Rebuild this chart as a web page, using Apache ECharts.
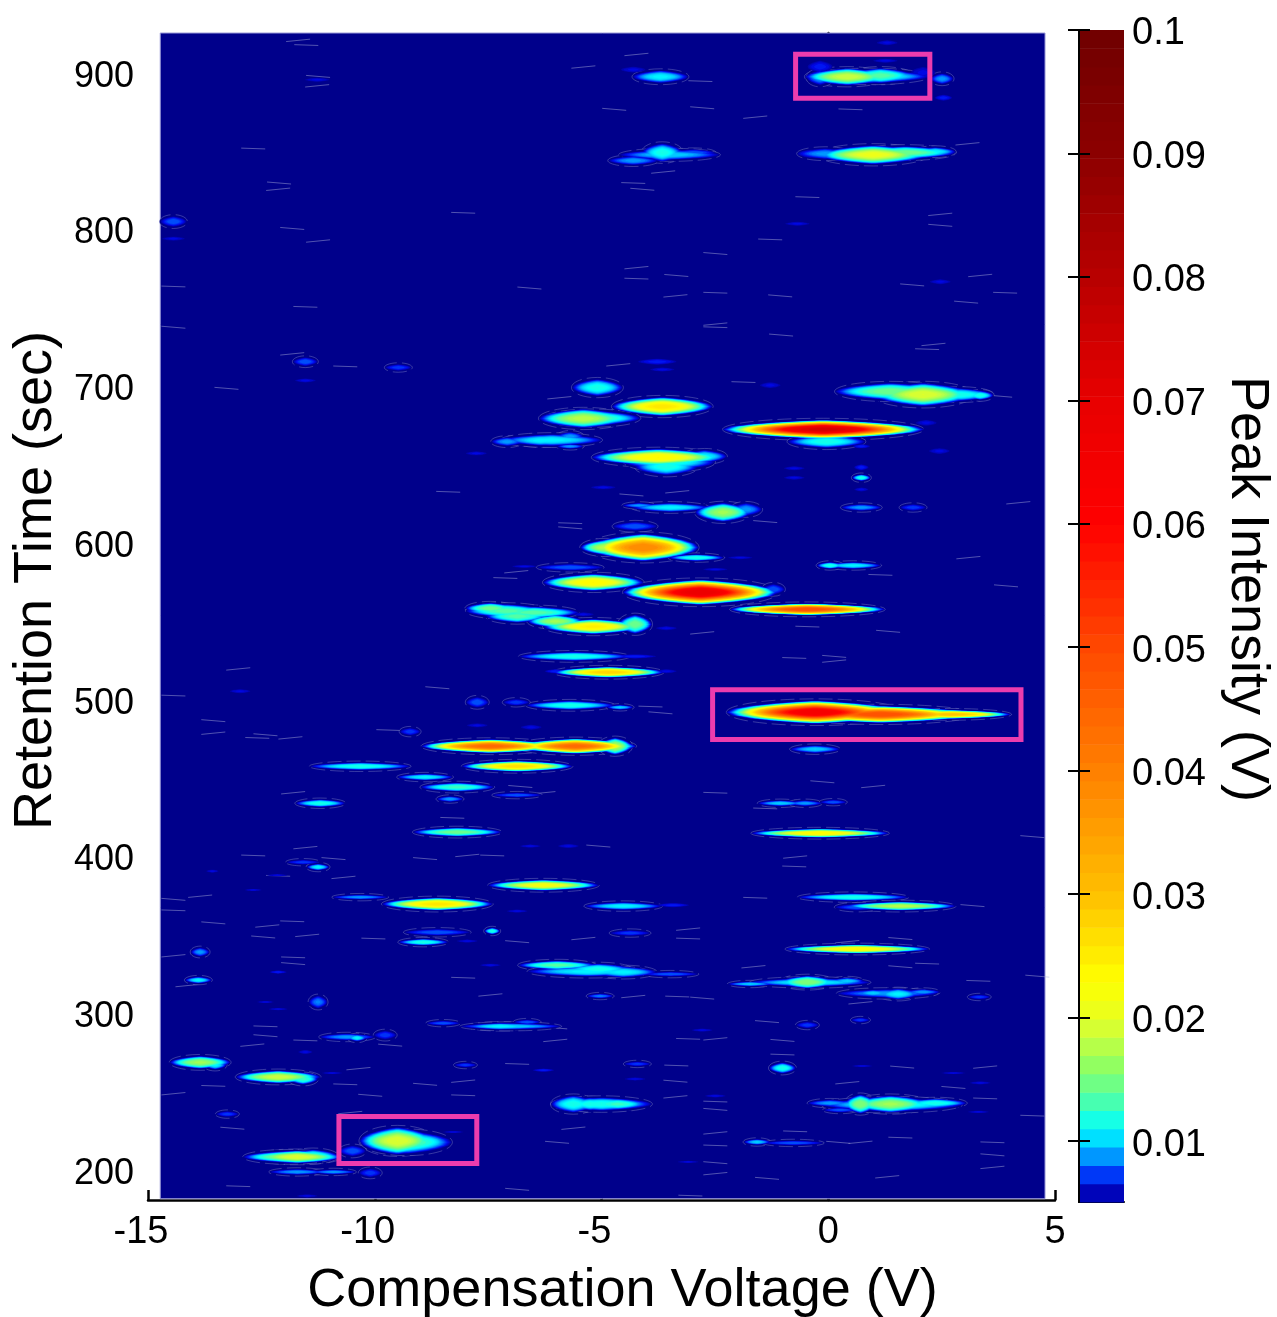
<!DOCTYPE html>
<html><head><meta charset="utf-8">
<style>html,body{margin:0;padding:0;background:#fff}#c{width:1277px;height:1317px}</style>
<script src="https://cdn.jsdelivr.net/npm/echarts@6/dist/echarts.min.js"></script>
</head><body><div id="c"></div>
<script>
// Axis ticks
const xTicks = [-15, -10, -5, 0, 5];
const yTicks = [200, 300, 400, 500, 600, 700, 800, 900];
const barTicks = [0.01, 0.02, 0.03, 0.04, 0.05, 0.06, 0.07, 0.08, 0.09, 0.1];
const plotRange = [-14.73, 4.78, 181, 924.7];
// Highlight boxes: [cv0, cv1, rt0, rt1]
const boxes = [[-0.72, 2.24, 883.1, 911.2], [-2.55, 4.25, 474, 505.7], [-10.79, -7.75, 203.5, 233.5]];
// Peaks: [compensation V, retention s, half width V, half height s, peak intensity V]
const peaksUpper = [
[.42,896.8,.84,5.1,.019],[1.15,897.5,.66,4.5,.014],[-.18,896.2,.26,4.5,.009],[-.18,903.2,.26,3.8,.007],[2.09,899.4,.26,3.8,.0065],
[2.51,895.5,.22,3.2,.009],[2.54,883.4,.18,1.9,.007],[1.26,907,.26,1.3,.0065],[1.3,918.5,.22,1.6,.0065],[-3.7,896.8,.55,3.8,.011],
[-4.3,901.3,.26,1.9,.0065],[-3.66,848.4,.4,5.5,.012],[-2.98,848.4,.44,1.9,.008],[-4.3,843.3,.49,2.6,.009],[.99,847,1.1,5.7,.021],
[1.7,848.4,1,3.8,.015],[-.07,847.7,.55,3.2,.009],[2.36,849,.4,2.6,.011],[-.4,847.7,.26,2.6,.007],[-14.44,804.4,.26,3.2,.008],
[-14.44,793.5,.24,1.3,.0065],[-11.27,894.9,.26,1.3,.0065],[-11.53,715,.24,2.6,.008],[-9.48,711.3,.26,1.9,.0075],[-11.53,703,.22,1.3,.0065],
[-5.09,698.5,.5,5.1,.012],[-3.66,686.4,1,5.7,.026],[-3.77,715,.4,1.9,.007],[-3.66,710,.26,1.3,.0065],[-1.28,700,.22,1.9,.0065],
[2.47,766,.22,1.6,.0065],[-.68,803,.26,1.3,.0065],[2.09,694,1,7,.02],[1.37,696,1.1,5.1,.015],[2.91,694,.66,3.8,.012],[3.35,693.5,.26,2.6,.012],
[-5.4,678.8,.88,5.7,.018],[-7.08,664,.31,2.6,.009],[-6.35,664.8,.55,3.2,.011],[-5.69,667.3,.26,2.6,.009],[-5.69,661,.26,1.3,.009],
[-7.76,656.5,.22,1.3,.0065],[-.11,671.8,2,5.7,.075],[-.04,664,.77,3.8,.012],[.73,661,.18,1.3,.007],[2.16,676,.22,1.9,.0065],[2.45,658,.22,1.9,.0065],
[.9,897,1.2,4,.012],[-3.5,847,1,3,.01],[-6.1,665,1,3.5,.011],[-5.2,679,.95,4.5,.014]
];
const peaksMiddle = [
[-3.75,654,1.32,5.1,.024],[-3.57,648,.62,5.1,.012],[-2.73,654.6,.44,3.8,.011],[.73,641,.18,1.9,.012],[.73,647.6,.15,1.9,.007],[.73,633.5,.15,1.3,.0065],
[-.75,647,.22,1.3,.0065],[-.75,641,.22,1.3,.0065],[-4.96,634.8,.26,1.3,.0065],[-2.32,618.9,.55,5.7,.017],[-3.48,622,.77,2.6,.011],[-1.81,620.8,.31,3.8,.009],
[-4.17,623.3,.33,1.3,.009],[.73,622,.4,1.9,.009],[1.87,622,.26,1.9,.0075],[-4.26,610,.44,2.6,.008],[-4.08,596.5,1.1,8.3,.04],[-2.91,590,.55,1.9,.012],
[-4.92,596.5,.49,4.5,.018],[-5.69,583.8,.66,1.9,.008],[-6.7,584.4,.26,1,.0065],[-1.94,590,.26,1,.0065],[-2.49,582.5,.26,1,.0065],[-5.18,574.2,1,5.1,.024],
[-2.82,567.9,1.54,7.6,.07],[-1.21,569.8,.22,3.2,.008],[-.46,557,1.54,3.5,.05],[.55,585,.55,1.9,.011],[.04,585,.26,1.9,.012],[-7.45,557.7,.49,3.2,.015],
[-6.86,552.6,.62,3.8,.014],[-6.02,549.4,.55,3.8,.017],[-5.18,546,1,4.5,.025],[-4.26,547.5,.33,5.7,.015],[-5.4,553.8,.22,1.3,.0065],[-3.57,545,.22,1.3,.0065],
[-5.6,527,1.1,2.6,.012],[-4.26,527,.44,1.3,.007],[-4.85,516.9,1.1,3.2,.028],[-6.02,517.5,.22,1.3,.007],[-3.57,517.5,.22,1.3,.0065],[-5.69,495.8,.88,2.6,.012],
[-4.59,494.5,.26,1.3,.01],[-6.88,497.7,.26,1.9,.0075],[-7.74,497.7,.22,3.2,.008],[-6.55,481.8,.22,1.6,.0065],[-7.74,483,.22,1.3,.0065],[-.29,491.4,1.76,7,.066],
[1.15,490,1.87,5.1,.05],[2.69,490,1.21,2.6,.03],[-.29,467.8,.49,2.2,.01],[-7.45,469.7,1.37,4.1,.045],[-5.58,469.7,1.21,4.5,.045],[-4.7,469.7,.33,5.1,.018],
[-6.86,456.9,1.1,3.2,.027],[-10.32,456.9,1,2.2,.012],[-8.89,450,.55,1.9,.011],[-8.18,443.6,.73,2.6,.013],[-6.86,438.5,.49,1.3,.008],[-8.34,436,.26,1.6,.009],
[-11.2,433.3,.49,2.2,.012],[-8.18,414.9,.88,2.6,.015],[-6.57,406,.22,1,.0065],[-5.73,406,.22,1.3,.0065],[-12.97,504.8,.22,1.3,.0065],[-9.22,479,.2,2.2,.0075],
[-1.06,433.3,.44,1.6,.01],[-.51,433.3,.33,1.6,.009],[.11,434,.26,1.3,.008],[-.18,414.2,1.37,2.6,.024],
[-3.5,651,.9,5,.012],[-6.5,555,.9,3.5,.014],[-7.1,556,.8,4,.014]
];
const peaksLower = [
[-6.28,381,1.1,3.2,.022],[-11.58,395.7,.33,1.3,.0075],[-11.25,392.6,.22,1.9,.011],[-10.32,373.4,.55,1.3,.009],[-8.62,369,1.1,3.8,.026],[-6.86,364.5,.22,1,.0065],
[-8.62,351,.66,1.9,.008],[-7.41,351.8,.15,1.9,.012],[-8.93,344.7,.49,1.9,.012],[-7.96,345.4,.22,1,.0065],[-13.85,338.4,.18,2.6,.009],[-13.58,390,.13,1,.0065],
[-12.68,378,.18,.7,.0065],[-12.15,387.4,.22,.7,.0065],[-4.52,367.7,.77,2.2,.011],[-3.42,368.3,.33,1.3,.007],[-4.37,350.5,.4,1.6,.0075],[.55,373.4,1.1,2.2,.012],
[1.59,367.7,1.1,2.6,.018],[.64,367,.44,1.9,.008],[.64,340.3,1.43,2.6,.024],[-.46,319.2,.55,3.8,.016],[-1.72,318,.44,1.3,.01],[.42,319.9,.33,1.9,.01],
[1.54,311.6,.4,3.2,.011],[.99,312.2,.31,1.9,.01],[2.09,312.9,.33,1.6,.009],[3.33,309.7,.22,1.3,.0075],[-4.52,325.6,.66,3.2,.011],[-5.07,327.5,.66,3.2,.012],
[-3.48,324.3,.55,1.3,.008],[-5.03,310.3,.26,1.3,.0085],[-.46,291.8,.22,1.9,.0075],[.71,295,.18,1.3,.0075],[-2.78,288.6,.22,1,.0065],[-13.89,320.5,.26,1.9,.011],
[-12.13,325.6,.18,1,.007],[-11.25,306.5,.18,3.8,.0085],[-12.41,306.5,.18,.7,.0065],[-12.13,302,.2,.7,.0065],[-5.98,330,.77,2.6,.014],[-7.45,330,.22,1,.0065],
[-10.61,284.2,.55,1.9,.009],[-10.39,283.6,.18,1.9,.011],[-9.77,285.4,.22,2.6,.0075],[-11.53,274.6,.15,1.3,.0065],[-8.49,293,.33,1.3,.008],[-7.23,291,.66,1.9,.011],
[-6.64,293.7,.26,1.3,.008],[-13.85,268,.6,3.8,.017],[-13.52,266.3,.22,2.6,.011],[-12.13,258.7,.84,3.8,.019],[-11.58,257.4,.29,3.2,.013],[-10.94,261.2,.22,.7,.0065],
[-8,266.3,.22,1.3,.0075],[-6.28,263,.22,1,.007],[-5.62,241.4,.44,5.1,.012],[-5.25,241.4,.44,3.8,.012],[-4.65,241.4,.55,3.2,.013],[-13.25,235,.22,1.6,.0075],
[-9.5,217.9,.75,8.3,.02],[-8.89,217.2,.44,5.1,.012],[-10.49,211.5,.26,3.2,.008],[-11.71,207.7,.88,3.8,.02],[-11.36,208.3,.49,3.8,.013],[-11.71,198.1,.55,1.6,.009],
[-10.91,198.1,.44,1.3,.009],[-10.1,197.5,.22,2.6,.0075],[-11.49,182.8,.22,1,.0065],[-8.27,223.6,.22,.7,.0065],[.71,241.4,.31,5.7,.016],[1.37,241.4,.79,5.1,.017],
[2.36,242,.62,2.6,.012],[.04,242,.44,1.9,.009],[.26,237.6,.33,1.3,.008],[-1.01,264.4,.26,3.2,.012],[-1.57,217.2,.26,1.6,.01],[-.77,216.6,.6,1.3,.008],
[-4.21,267,.26,1.3,.0075],[-4.26,257.4,.22,1,.0065],[-2.49,246.6,.22,1,.0065],[-3.09,204.5,.22,.7,.0065],[.75,265.7,.22,.7,.0065],[2.76,261.2,.26,.7,.0065],
[3.35,254.9,.22,1,.0065],[3.31,236.4,.22,.8,.0065],
[-5,241.4,1,4,.012],[1.4,241,1.4,4,.012],[-5.3,326,1.2,3,.011],[-.4,319,1.2,2.5,.011],[1.3,312,1,2.5,.009],[-7,291,1,1.8,.01],[-11.9,207.7,.9,3.5,.016],[-9.3,217,.9,7,.014]
];
// Faint noise traces: [compensation V, retention s]
const tracesUpper = [[-11.69,920],[-11.51,917],[-11.25,897],[-11.27,891],[-12.68,851],[-12.11,829],[-12.13,825],[-14.44,763],[-11.82,800],[-11.25,792],[-8.05,810],[-6.59,762],[-5.4,903],[-11.53,750],[-14.44,737],[-11.82,720],[-10.65,712],[-13.27,698],[-4.23,911],[-2.82,894],[-2.78,877],[-1.61,871],[.49,876],[-4.72,876],[3.07,854],[-4.3,829],[-4.1,825],[-3.64,836],[-.46,820],[2.47,802],[2.47,809],[-1.28,793],[-2.49,784],[-4.23,775],[-4.23,768],[-3.35,770],[-3.37,757],[-2.49,759],[-1.06,757],[-2.49,739],[-2.49,737],[-1.04,732],[2.32,726],[2.18,723],[1.85,764],[3.35,770],[3.9,759],[3.04,753],[-4.63,713],[-1.87,702],[3.79,693],[-5.93,692]];
const tracesMiddle = [[-8.38,632],[-4.34,630],[-3.33,632],[-5.69,612],[-5.69,609],[-6.88,581],[-7.12,577],[-1.39,613],[3.09,590],[1.15,579],[3.92,572],[4.19,625],[-.46,546],[1.32,543],[-2.78,542],[-.75,526],[.13,527],[.13,524],[-3.92,495],[-3.7,491],[-13.01,519],[-14.44,502],[-13.56,486],[-13.56,478],[-12.59,475],[-12.41,477],[-11.86,475],[-9.7,480],[-8.62,507],[-11.8,440],[-8.29,424],[-6.79,444],[-6.28,440],[-2.49,440],[-.13,447],[.99,444],[-1.39,430],[-5.07,406],[-.73,399],[-.75,393],[4.5,412]];
const tracesLower = [[-11.53,405],[-12.68,400],[-8.89,398],[-7.96,400],[-7.41,400],[-10.91,398],[-10.69,386],[-12.13,387],[-14.44,372],[-13.85,374],[-14.44,365],[-13.56,357],[-12.37,355],[-11.82,358],[-12.46,348],[-11.49,349],[-10.03,347],[-6.86,345],[-5.4,347],[-1.61,373],[3.18,368],[-3.09,353],[-3.09,347],[1.59,347],[.42,345],[2.18,331],[1.59,329],[-1.65,329],[3.31,320],[4.61,323],[-4.3,310],[-3.33,310],[-2.78,309],[.71,306],[-1.01,273],[-1.01,282],[-2.49,283],[-3.09,283],[-1.35,294],[-14.44,336],[-11.8,335],[-11.8,331],[-14.13,317],[-12.41,291],[-12.41,285],[-12.7,279],[-11.53,282],[-9.66,279],[-10.36,264],[-10.65,254],[-8.89,254],[-8.05,256],[-8.05,247],[-10.1,247],[-14.44,248],[-13.56,253],[-13.14,226],[-7.45,311],[-8.05,322],[-5.98,217],[-5.62,226],[-6.86,267],[-6.02,290],[-6.02,282],[-13.01,189],[-6.86,187],[-10.54,236],[-3.35,266],[-3.37,256],[-3.37,246],[-2.49,243],[-2.49,238],[-2.49,223],[-2.49,215],[-2.49,204],[-2.49,197],[-.73,224],[.22,217],[.71,217],[1.59,220],[1.63,265],[.42,255],[3.62,217],[3.62,209],[3.62,201],[4.5,234],[2.76,252],[3.46,265],[3.46,245],[-1.35,194],[1.3,195],[-3.04,183]];

// Colour scale
const colorStops = [[.0051,[0,0,139]],[.0066,[0,8,240]],[.0081,[0,112,255]],[.0096,[0,200,255]],[.0111,[0,255,255]],[.0125,[48,255,200]],[.014,[96,255,152]],[.0155,[128,255,112]],[.017,[168,255,80]],[.0185,[200,255,64]],[.02,[232,255,32]],[.023,[255,255,0]],[.03,[255,192,0]],[.04,[255,128,0]],[.05,[255,72,0]],[.06,[255,0,0]],[.07,[232,0,0]],[.08,[184,0,0]],[.09,[140,0,0]],[.1,[112,0,0]]];
function colorOf(v){
  if(v<=colorStops[0][0]) return 'rgb(0,0,139)';
  for(let i=1;i<colorStops.length;i++){
    if(v<=colorStops[i][0]){
      const a=colorStops[i-1],b=colorStops[i],t=(v-a[0])/(b[0]-a[0]);
      return 'rgb('+[0,1,2].map(k=>Math.round(a[1][k]+(b[1][k]-a[1][k])*t)).join(',')+')';
    }
  }
  return 'rgb(112,0,0)';
}
const barMin=.00506, barMax=.1, bandCount=64;
const bands=[];
for(let i=0;i<bandCount;i++){
  const lo=barMin+(barMax-barMin)*i/bandCount, hi=barMin+(barMax-barMin)*(i+1)/bandCount;
  bands.push([lo,hi,(lo+hi)/2]);
}
const peaks=peaksUpper.concat(peaksMiddle,peaksLower);
const traces=tracesUpper.concat(tracesMiddle,tracesLower);
const outerLevel=.0054;
const levels=[];
for(let L=.0056;L<.012;L+=.0004)levels.push(L);
for(let L=.012;L<.03;L+=.0008)levels.push(L);
for(let L=.03;L<.1;L+=.002)levels.push(L);
const contourRows=[];
levels.forEach(L=>{
  peaks.forEach(p=>{
    if(p[4]>L){
      const s=Math.pow(Math.log(p[4]/L)/Math.log(p[4]/outerLevel),.36);
      contourRows.push([p[0],p[1],p[2]*s*1.12,p[3]*s*1.05,L]);
    }
  });
});
const ink='#000';
const font='"Liberation Sans", Arial, sans-serif';
const chart=echarts.init(document.getElementById('c'),null,{renderer:'canvas'});
const lensSteps=[];
for(let i=0;i<22;i++){const t=i/22*2*Math.PI;lensSteps.push([Math.sign(Math.cos(t))*Math.pow(Math.abs(Math.cos(t)),1.7),Math.sin(t)]);}
function lensItem(params,api){
  const c=api.coord([api.value(0),api.value(1)]);
  const sz=api.size([api.value(2),api.value(3)]);
  const rx=Math.max(sz[0],.7),ry=Math.max(sz[1],.6);
  return {type:'polygon',shape:{points:lensSteps.map(q=>[c[0]+q[0]*rx,c[1]+q[1]*ry])},style:{fill:colorOf(api.value(4))}};
}
chart.setOption({
  animation:false,
  grid:[
    {left:148,top:33,width:907,height:1167,containLabel:false,outerBoundsMode:'none'},
    {left:1079,top:30,width:45,height:1172,containLabel:false,outerBoundsMode:'none'}
  ],
  xAxis:[
    {gridIndex:0,type:'value',min:-15,max:5,interval:5,
     name:'Compensation Voltage (V)',nameLocation:'middle',nameGap:64,
     nameTextStyle:{fontFamily:font,fontSize:54,color:ink,padding:[0,0,0,42]},
     axisLine:{show:true,lineStyle:{color:ink,width:2.5}},
     axisTick:{show:true,inside:true,length:10,lineStyle:{color:ink,width:2.5}},
     splitLine:{show:false},
     axisLabel:{show:true,margin:14,fontFamily:font,fontSize:38,color:ink,hideOverlap:false,showMinLabel:true,showMaxLabel:true,
       formatter:v=>v<0?'{n|'+v+'}':'{p|'+v+'}',
       rich:{n:{fontFamily:font,fontSize:38,color:ink,padding:[0,14,0,0]},p:{fontFamily:font,fontSize:38,color:ink}}}},
    {gridIndex:1,type:'value',min:0,max:1,show:true,
     axisLine:{show:true,lineStyle:{color:ink,width:2}},axisTick:{show:false},axisLabel:{show:false},splitLine:{show:false}}
  ],
  yAxis:[
    {gridIndex:0,type:'value',min:180.2,max:924.7,
     name:'Retention Time (sec)',nameLocation:'middle',nameGap:82,nameRotate:90,
     nameTextStyle:{fontFamily:font,fontSize:54,color:ink,padding:[0,0,0,72]},
     axisLine:{show:true,lineStyle:{color:ink,width:2.5}},
     axisTick:{show:true,inside:true,length:10,customValues:yTicks,lineStyle:{color:ink,width:2.5}},
     splitLine:{show:false},
     axisLabel:{show:true,margin:14,customValues:yTicks,fontFamily:font,fontSize:36,color:ink,
       formatter:v=>'{a|'+v+'}',
       rich:{a:{fontFamily:font,fontSize:36,color:ink,padding:[10,0,0,0]}}}},
    {gridIndex:1,type:'value',min:barMin,max:barMax,position:'right',z:6,
     name:'Peak Intensity (V)',nameLocation:'middle',nameGap:96,nameRotate:-90,
     nameTextStyle:{fontFamily:font,fontSize:54,color:ink,padding:[0,54,0,0]},
     axisLine:{show:true,lineStyle:{color:ink,width:2}},
     axisTick:{show:true,inside:true,length:11,customValues:barTicks,lineStyle:{color:ink,width:2}},
     splitLine:{show:false},
     axisLabel:{show:true,margin:8,customValues:barTicks,fontFamily:font,fontSize:38,color:ink,
       formatter:v=>'{a|'+(+v.toFixed(2))+'}',
       rich:{a:{fontFamily:font,fontSize:38,color:ink,padding:[8,0,0,0]}}}},
    {gridIndex:1,type:'value',min:barMin,max:barMax,position:'left',z:6,
     axisLine:{show:true,lineStyle:{color:ink,width:2}},
     axisTick:{show:true,inside:true,length:11,customValues:barTicks,lineStyle:{color:ink,width:2}},
     splitLine:{show:false},axisLabel:{show:false}}
  ],
  series:[
    {type:'custom',name:'plot area',xAxisIndex:0,yAxisIndex:0,z:2,silent:true,clip:false,
     data:[plotRange],
     renderItem(params,api){
       const a=api.coord([api.value(0),api.value(3)]),b=api.coord([api.value(1),api.value(2)]);
       return {type:'rect',shape:{x:a[0],y:a[1],width:b[0]-a[0],height:b[1]-a[1]},style:{fill:'#00008b',stroke:'#9a9ad8',lineWidth:1}};
     }},
    {type:'custom',name:'noise traces',xAxisIndex:0,yAxisIndex:0,z:3,silent:true,
     data:traces,
     renderItem(params,api){
       const c=api.coord([api.value(0),api.value(1)]);
       const tilt=[-1.2,0.4,1][params.dataIndex%3];
       return {type:'line',shape:{x1:c[0]-12,y1:c[1]-tilt,x2:c[0]+12,y2:c[1]+tilt},style:{stroke:'rgba(165,170,215,0.55)',lineWidth:.9,fill:null}};
     }},
    {type:'custom',name:'peak outlines',xAxisIndex:0,yAxisIndex:0,z:3,silent:true,
     data:peaks.filter(p=>p[4]>=.0075),
     renderItem(params,api){
       const c=api.coord([api.value(0),api.value(1)]);
       const sz=api.size([api.value(2),api.value(3)]);
       return {type:'ellipse',shape:{cx:c[0],cy:c[1],rx:sz[0]*1.1+1,ry:sz[1]*1.08+1.5},style:{fill:'#00008b',stroke:'rgba(165,170,215,0.42)',lineWidth:.8,lineDash:[14,5]}};
     }},
    {type:'custom',name:'peaks',xAxisIndex:0,yAxisIndex:0,z:4,silent:true,
     data:contourRows,renderItem:lensItem},
    {type:'custom',name:'boxes',xAxisIndex:0,yAxisIndex:0,z:5,silent:true,
     data:boxes,
     renderItem(params,api){
       const a=api.coord([api.value(0),api.value(3)]),b=api.coord([api.value(1),api.value(2)]);
       return {type:'rect',shape:{x:a[0],y:a[1],width:b[0]-a[0],height:b[1]-a[1]},style:{fill:null,stroke:'#ec3cae',lineWidth:5}};
     }},
    {type:'custom',name:'colour bar',xAxisIndex:1,yAxisIndex:1,z:2,silent:true,
     data:bands,
     renderItem(params,api){
       const a=api.coord([0,api.value(1)]),b=api.coord([1,api.value(0)]);
       return {type:'rect',shape:{x:a[0],y:a[1],width:b[0]-a[0],height:b[1]-a[1]+.5},style:{fill:colorOf(api.value(2))}};
     }}
  ]
});
</script></body></html>
